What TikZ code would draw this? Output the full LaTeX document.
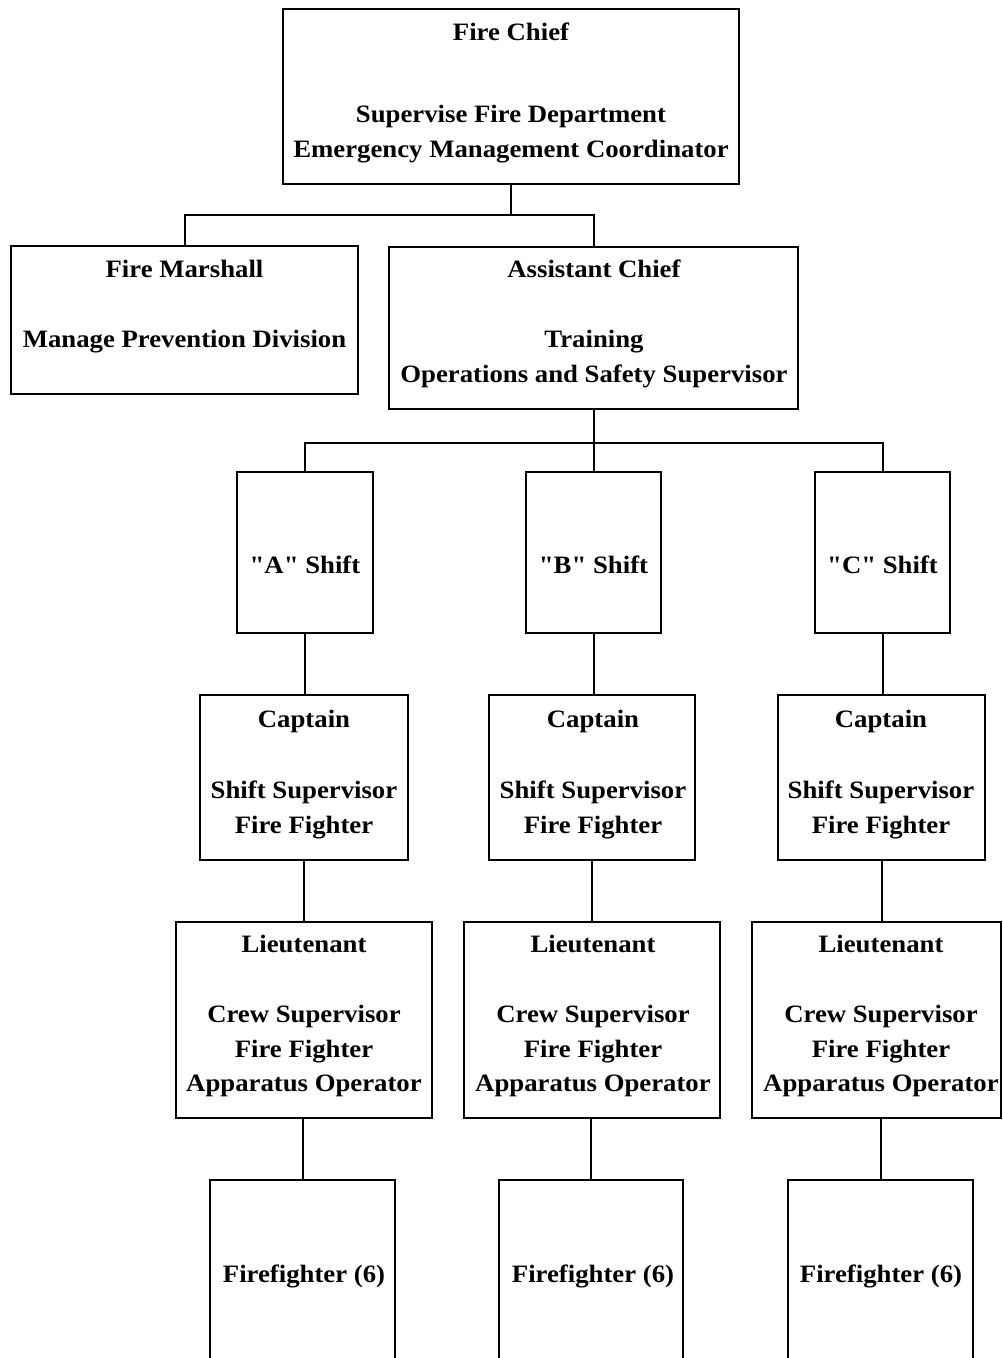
\documentclass[tikz,border=0pt]{standalone}
\usepackage{fontspec}
\newfontfamily\orgfont{Liberation Serif}[FakeStretch=1.07]
\begin{document}
\begin{tikzpicture}[x=1pt,y=-1pt,
  box/.style={draw, line width=2pt, inner sep=0pt},
  conn/.style={line width=2pt},
  lbl/.style={anchor=base, inner sep=0pt, font=\orgfont\bfseries\fontsize{25}{30}\selectfont}]
\clip (0,0) rectangle (1002,1358);
\fill[white] (0,0) rectangle (1002,1358);
% boxes
\node[box, minimum width=456pt, minimum height=175pt] (fc) at (511,96.5) {};
\node[box, minimum width=347pt, minimum height=148pt] (fm) at (184.5,320) {};
\node[box, minimum width=409pt, minimum height=162pt] (ac) at (593.5,327.5) {};
\node[box, minimum width=136pt, minimum height=161pt] (sA) at (305,552.5) {};
\node[box, minimum width=135pt, minimum height=161pt] (sB) at (593.5,552.5) {};
\node[box, minimum width=135pt, minimum height=161pt] (sC) at (882.5,552.5) {};
\node[box, minimum width=208pt, minimum height=165pt] (capA) at (304,777.5) {};
\node[box, minimum width=206pt, minimum height=165pt] (capB) at (592,777.5) {};
\node[box, minimum width=207pt, minimum height=165pt] (capC) at (881.5,777.5) {};
\node[box, minimum width=256pt, minimum height=196pt] (ltA) at (304,1020) {};
\node[box, minimum width=256pt, minimum height=196pt] (ltB) at (592,1020) {};
\node[box, minimum width=249pt, minimum height=196pt] (ltC) at (876.5,1020) {};
\node[box, minimum width=185pt, minimum height=220pt] (ffA) at (302.5,1290) {};
\node[box, minimum width=184pt, minimum height=220pt] (ffB) at (591,1290) {};
\node[box, minimum width=185pt, minimum height=220pt] (ffC) at (880.5,1290) {};
% connectors
\draw[conn] (fc.south) -- ++(0,30) -| (fm.north);
\draw[conn] (fc.south) -- ++(0,30) -| (ac.north);
\draw[conn] (ac.south) -- ++(0,33) -| (sA.north);
\draw[conn] (ac.south) -- ++(0,33) -| (sB.north);
\draw[conn] (ac.south) -- ++(0,33) -| (sC.north);
\draw[conn] (sA.south) -- (sA.south |- capA.north);
\draw[conn] (sB.south) -- (sB.south |- capB.north);
\draw[conn] (sC.south) -- (sC.south |- capC.north);
\draw[conn] (capA.south) -- (capA.south |- ltA.north);
\draw[conn] (capB.south) -- (capB.south |- ltB.north);
\draw[conn] (capC.south) -- (capC.south |- ltC.north);
\draw[conn] (ffA.north |- ltA.south) -- (ffA.north);
\draw[conn] (ffB.north |- ltB.south) -- (ffB.north);
\draw[conn] (ffC.north |- ltC.south) -- (ffC.north);
% texts
\node[lbl] (fc1) at (511,40) {Fire Chief};
\node[lbl] (fc2) at (511,122) {Supervise Fire Department};
\node[lbl] (fc3) at (511,157) {Emergency Management Coordinator};
\node[lbl] (fm1) at (184.5,277) {Fire Marshall};
\node[lbl] (fm2) at (184.5,347) {Manage Prevention Division};
\node[lbl] (ac1) at (594,277) {Assistant Chief};
\node[lbl] (ac2) at (594,347) {Training};
\node[lbl] (ac3) at (594,382) {Operations and Safety Supervisor};
\node[lbl] (sA1) at (305,573) {"A" Shift};
\node[lbl] (sB1) at (593.5,573) {"B" Shift};
\node[lbl] (sC1) at (882.5,573) {"C" Shift};
\foreach \c/\x in {A/304,B/593,C/881}{
  \node[lbl] (cap\c1) at (\x,727) {Captain};
  \node[lbl] (cap\c2) at (\x,798) {Shift Supervisor};
  \node[lbl] (cap\c3) at (\x,833) {Fire Fighter};
  \node[lbl] (lt\c1) at (\x,952) {Lieutenant};
  \node[lbl] (lt\c2) at (\x,1022) {Crew Supervisor};
  \node[lbl] (lt\c3) at (\x,1057) {Fire Fighter};
  \node[lbl] (lt\c4) at (\x,1091) {Apparatus Operator};
  \node[lbl] (ff\c1) at (\x,1282) {Firefighter (6)};
}
\end{tikzpicture}
\end{document}
